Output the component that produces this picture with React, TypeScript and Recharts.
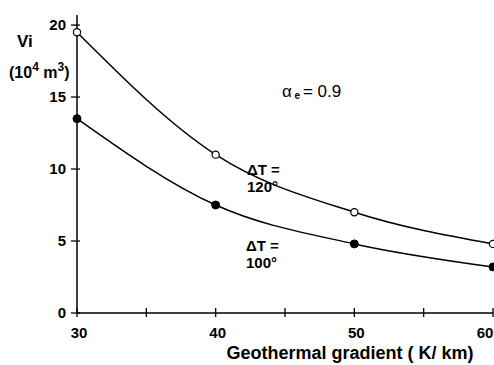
import { Line, LineChart, XAxis, YAxis } from "recharts"

const gradients = [30, 40, 50, 60]
const vi120 = [19.5, 11.0, 7.0, 4.8]
const vi100 = [13.5, 7.5, 4.8, 3.2]
const xTicks = [30, 35, 40, 45, 50, 55, 60]
const yTicks = [0, 5, 10, 15, 20]

const data = gradients.map((g, i) => ({ g, t120: vi120[i], t100: vi100[i] }))

const font = "'Liberation Sans', Arial, sans-serif"

function XTick({ x, y, payload }: any) {
  const v = payload.value
  return (
    <g>
      <line x1={x} x2={x} y1={y - 5} y2={y + 4} stroke="#000" strokeWidth={1.3} />
      {v % 10 === 0 && (
        <text x={Math.min(x + 2, 485)} y={y + 25} textAnchor="middle" fontSize={15} fontWeight="bold" fontFamily={font} fill="#000">
          {v}
        </text>
      )}
    </g>
  )
}

function YTick({ x, y, payload }: any) {
  return (
    <g>
      <line x1={x - 6} x2={x + 3} y1={y} y2={y} stroke="#000" strokeWidth={1.3} />
      <text x={x - 11} y={y + 5} textAnchor="end" fontSize={15} fontWeight="bold" fontFamily={font} fill="#000">
        {payload.value}
      </text>
    </g>
  )
}

function OpenDot({ cx, cy }: any) {
  return <circle cx={cx} cy={cy} r={3.6} fill="#fff" stroke="#000" strokeWidth={1.2} />
}

function FilledDot({ cx, cy }: any) {
  return <circle cx={cx} cy={cy} r={4} fill="#000" stroke="#000" />
}

export default function App() {
  return (
    <div style={{ position: "absolute", left: 0, top: 0, background: "#fff" }}>
      <LineChart width={494} height={365} data={data} margin={{ top: 15, right: 1, bottom: 0, left: 0 }}>
        <XAxis
          dataKey="g"
          type="number"
          domain={[30, 60]}
          ticks={xTicks}
          tick={<XTick />}
          tickSize={0}
          tickMargin={0}
          tickLine={false}
          height={52}
          axisLine={{ stroke: "#000", strokeWidth: 1.5 }}
          interval={0}
        />
        <XAxis xAxisId="top" orientation="top" type="number" domain={[30, 60]} height={0} tick={false} tickLine={false} axisLine={{ stroke: "#000", strokeWidth: 1.5 }} />
        <YAxis
          type="number"
          domain={[0, 20.7]}
          ticks={yTicks}
          tick={<YTick />}
          tickSize={0}
          tickMargin={0}
          tickLine={false}
          width={77}
          axisLine={{ stroke: "#000", strokeWidth: 1.5 }}
          interval={0}
        />
        <YAxis yAxisId="right" orientation="right" type="number" domain={[0, 20.7]} width={0} tick={false} tickLine={false} axisLine={{ stroke: "#000", strokeWidth: 1.5 }} />
        <Line type="monotone" dataKey="t120" stroke="#000" strokeWidth={1.5} dot={<OpenDot />} isAnimationActive={false} />
        <Line type="monotone" dataKey="t100" stroke="#000" strokeWidth={1.5} dot={<FilledDot />} isAnimationActive={false} />
        <text x={17} y={47} fontSize={17} fontWeight="bold" fontFamily={font} fill="#000">Vi</text>
        <text x={9} y={78} fontSize={16} fontWeight="bold" fontFamily={font} fill="#000">
          (10<tspan dy={-7} fontSize={12}>4</tspan>
          <tspan dy={7}> m</tspan>
          <tspan dy={-7} fontSize={12}>3</tspan>
          <tspan dy={7}>)</tspan>
        </text>
        <text x={282} y={97} fontSize={17} fontFamily={font} fill="#000">
          α<tspan fontSize={10} fontWeight="bold" dy={2}> e </tspan>
          <tspan dy={-2}>= 0.9</tspan>
        </text>
        <text fontSize={15} fontWeight="bold" fontFamily={font} fill="#000">
          <tspan x={247} y={175}>ΔT =</tspan>
          <tspan x={247} y={192}>120°</tspan>
        </text>
        <text fontSize={15} fontWeight="bold" fontFamily={font} fill="#000">
          <tspan x={246} y={251}>ΔT =</tspan>
          <tspan x={246} y={268}>100°</tspan>
        </text>
        <text x={350} y={359} textAnchor="middle" fontSize={18} fontWeight="bold" fontFamily={font} fill="#000">
          Geothermal gradient ( K/ km)
        </text>
      </LineChart>
    </div>
  )
}
